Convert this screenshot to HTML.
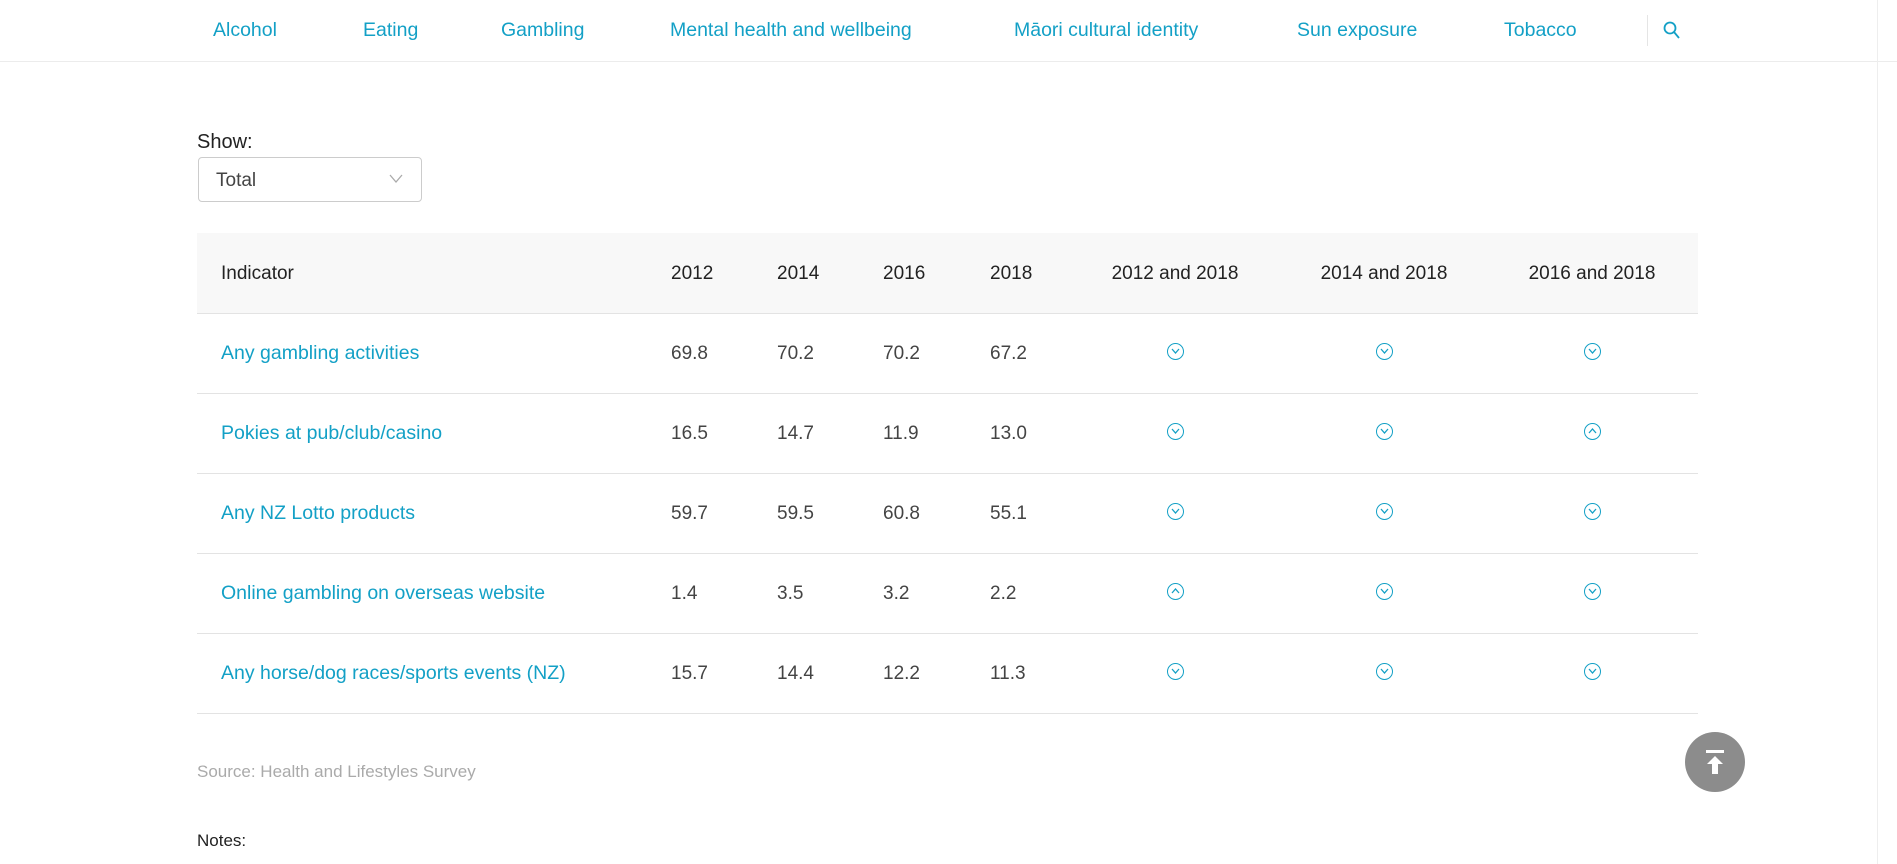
<!DOCTYPE html>
<html><head><meta charset="utf-8">
<style>
body{margin:0;width:1897px;height:864px;overflow:hidden;background:#fff;font-family:"Liberation Sans",sans-serif;position:relative;color:#333}
.abs{position:absolute;white-space:nowrap}
.nav{font-size:19.5px;color:#13a0c6;top:19px}
.num{font-size:19px;color:#444}
.lnk{font-size:19.5px;color:#13a0c6}
.ic{position:absolute;width:17px;height:17px;border:1.6px solid #13a0c6;border-radius:50%;box-sizing:border-box}
.ic svg{position:absolute;left:3px;top:3px}
</style></head><body>
<div class="abs" style="left:0;top:0;width:1897px;height:61px;border-bottom:1px solid #ececec"></div>
<a class="abs nav" style="left:213px">Alcohol</a>
<a class="abs nav" style="left:363px">Eating</a>
<a class="abs nav" style="left:501px">Gambling</a>
<a class="abs nav" style="left:670px">Mental health and wellbeing</a>
<a class="abs nav" style="left:1014px">Māori cultural identity</a>
<a class="abs nav" style="left:1297px">Sun exposure</a>
<a class="abs nav" style="left:1504px">Tobacco</a>
<div class="abs" style="left:1647px;top:15px;width:1px;height:31px;background:#e5e5e5"></div>
<svg class="abs" style="left:1663px;top:21px" width="18" height="20" viewBox="0 0 18 20"><circle cx="7" cy="7" r="5.5" fill="none" stroke="#13a0c6" stroke-width="1.8"/><line x1="11" y1="11" x2="16" y2="17" stroke="#13a0c6" stroke-width="1.8"/></svg>
<div class="abs" style="left:1877px;top:0;width:1px;height:864px;background:#eee"></div>

<div class="abs" style="left:197px;top:131px;font-size:20px;color:#222">Show:</div>
<div class="abs" style="left:198px;top:157px;width:224px;height:45px;border:1.5px solid #ccc;border-radius:4px;box-sizing:border-box">
<span class="abs" style="left:17px;top:12px;font-size:19px;color:#444">Total</span>
<svg class="abs" style="left:190px;top:16px" width="14" height="10"><polyline points="1,1 7,8 13,1" fill="none" stroke="#aaa" stroke-width="1.3"/></svg>
</div>

<div class="abs" style="left:197px;top:233px;width:1501px;height:80px;background:#f8f8f8;border-bottom:1px solid #e3e3e3"></div>
<div id="tbl"></div>

<div class="abs" style="left:197px;top:762px;font-size:17px;color:#aaa">Source: Health and Lifestyles Survey</div>
<div class="abs" style="left:197px;top:831px;font-size:17px;color:#222">Notes:</div>
<div class="abs" style="left:1685px;top:732px;width:60px;height:60px;border-radius:50%;background:#8c8c8c">
<svg class="abs" style="left:19px;top:17px" width="22" height="26"><rect x="2" y="1" width="18" height="3" fill="#fff"/><polygon points="11,7 3,15 8,15 8,25 14,25 14,15 19,15" fill="#fff"/></svg>
</div>

<script>
const indicators=["Any gambling activities","Pokies at pub/club/casino","Any NZ Lotto products","Online gambling on overseas website","Any horse/dog races/sports events (NZ)"];
const years=["2012","2014","2016","2018"];
const values=[[69.8,70.2,70.2,67.2],[16.5,14.7,11.9,13.0],[59.7,59.5,60.8,55.1],[1.4,3.5,3.2,2.2],[15.7,14.4,12.2,11.3]];
const compareCols=["2012 and 2018","2014 and 2018","2016 and 2018"];
const trends=[["d","d","d"],["d","d","u"],["d","d","d"],["u","d","d"],["d","d","d"]];
const yearX=[671,777,883,990], cmpX=[1175,1384,1592];
const t=document.getElementById('tbl');
function mk(html,l,tp,extra){const d=document.createElement('div');d.className='abs';d.style.left=l+'px';d.style.top=tp+'px';if(extra)d.style.cssText+=extra;d.innerHTML=html;t.appendChild(d);return d;}
let h=mk('Indicator',221,263,'font-size:19px;color:#222');


years.forEach((y,i)=>{const e=mk(y,yearX[i],263,'font-size:19px;color:#222');

});
compareCols.forEach((c,i)=>{const e=mk(c,cmpX[i]-80,263,'font-size:19px;color:#222;width:160px;text-align:center');

});
indicators.forEach((name,r)=>{
const cy=354+r*80;
const l=mk(name,221,cy-12,'');l.classList.add('lnk');


values[r].forEach((v,i)=>{const e=mk(v.toFixed(1),yearX[i],cy-11,'');e.classList.add('num');

});
trends[r].forEach((tr,i)=>{const pts=tr==='d'?'1,2 4.5,6 8,2':'1,6 4.5,2 8,6';
const e=mk('<svg width="9" height="8"><polyline points="'+pts+'" fill="none" stroke="#13a0c6" stroke-width="1.3"/></svg>',cmpX[i]-8,cy-11,'');e.className='ic';

});
const b=mk('',197,cy+39,'width:1501px;height:1px;background:#e3e3e3');


});
</script>
</body></html>
